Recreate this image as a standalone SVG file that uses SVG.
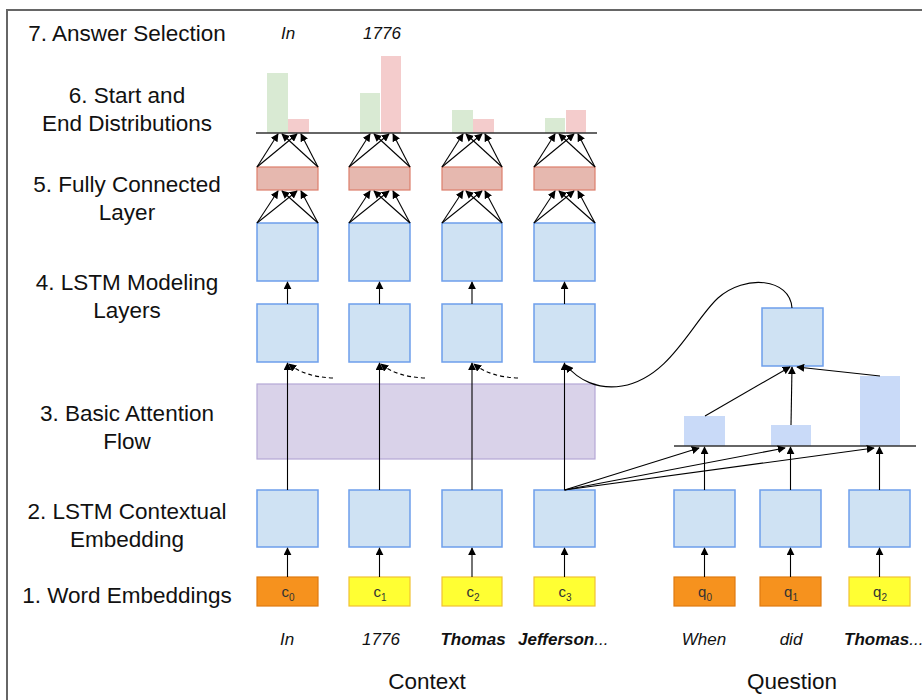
<svg xmlns="http://www.w3.org/2000/svg" width="922" height="700" viewBox="0 0 922 700">
  <defs>
    <marker id="ah" viewBox="0 0 10 10" refX="9" refY="5" markerWidth="8" markerHeight="8" markerUnits="userSpaceOnUse" orient="auto">
      <path d="M0,0 L10,5 L0,10 z" fill="#000"/>
    </marker>
    <style>
      .lbl { font-family: "Liberation Sans", Arial, sans-serif; font-size: 22.5px; fill: #111; text-anchor: middle; }
      .word { font-family: "Liberation Sans", Arial, sans-serif; font-size: 17px; font-style: italic; fill: #111; text-anchor: middle; }
      .bold { font-weight: bold; }
      .title { font-family: "Liberation Sans", Arial, sans-serif; font-size: 22.5px; fill: #111; text-anchor: middle; }
      .sub { font-family: "Liberation Sans", Arial, sans-serif; font-size: 15px; fill: #333; text-anchor: middle; }
      .lstm { fill: #cfe2f3; stroke: #6d9eeb; stroke-width: 1.5; }
      .fc { fill: #e6b8af; stroke: #dd7e6b; stroke-width: 1.2; }
      .att { fill: #d9d2e9; stroke: #b4a7d6; stroke-width: 1.2; }
      .orange { fill: #f6921e; stroke: #e07b10; stroke-width: 1.2; }
      .yellow { fill: #ffff33; stroke: #f1c232; stroke-width: 1.2; }
      .green { fill: #d9ead3; }
      .pink { fill: #f4cccc; }
      .qbar { fill: #c9daf8; }
      .base { stroke: #333; stroke-width: 1.5; }
      .arr { stroke: #000; stroke-width: 1.1; fill: none; marker-end: url(#ah); }
      .dash { stroke: #000; stroke-width: 1.1; fill: none; stroke-dasharray: 4 3; marker-end: url(#ah); }
    </style>
  </defs>

  <rect width="922" height="700" fill="#fff"/>
  <!-- frame -->
  <path d="M7,700 L7,10 L922,10" fill="none" stroke="#666" stroke-width="2"/>

  <!-- layer labels -->
  <g id="layer-labels">
    <text class="lbl" x="127" y="41">7. Answer Selection</text>
    <text class="lbl" x="127" y="103">6. Start and</text>
    <text class="lbl" x="127" y="131">End Distributions</text>
    <text class="lbl" x="127" y="192">5. Fully Connected</text>
    <text class="lbl" x="127" y="220">Layer</text>
    <text class="lbl" x="127" y="290">4. LSTM Modeling</text>
    <text class="lbl" x="127" y="318">Layers</text>
    <text class="lbl" x="127" y="421">3. Basic Attention</text>
    <text class="lbl" x="127" y="449">Flow</text>
    <text class="lbl" x="127" y="519">2. LSTM Contextual</text>
    <text class="lbl" x="127" y="547">Embedding</text>
    <text class="lbl" x="127" y="603">1. Word Embeddings</text>
  </g>

  <!-- answer words -->
  <g id="answer">
    <text class="word" x="288" y="39">In</text>
    <text class="word" x="382" y="39">1776</text>
  </g>

  <!-- start / end distributions -->
  <g id="distributions">
    <rect class="green" x="267" y="73" width="21" height="60"/>
    <rect class="pink" x="288" y="119" width="21" height="14"/>
    <rect class="green" x="360" y="93" width="20" height="40"/>
    <rect class="pink" x="381" y="56" width="20" height="77"/>
    <rect class="green" x="452" y="110" width="21" height="23"/>
    <rect class="pink" x="473" y="119" width="21" height="14"/>
    <rect class="green" x="545" y="118" width="20" height="15"/>
    <rect class="pink" x="566" y="110" width="20" height="23"/>
    <line class="base" x1="256" y1="133" x2="597" y2="133"/>
  </g>

  <!-- attention flow layer -->
  <g id="attention">
    <rect class="att" x="257" y="384" width="338" height="75"/>
  </g>

  <!-- context columns -->
  <g id="context-0">
    <rect class="fc" x="257" y="167" width="61" height="23"/>
    <rect class="lstm" x="257" y="223" width="61" height="58"/>
    <rect class="lstm" x="257" y="304" width="61" height="58"/>
    <rect class="lstm" x="257" y="490" width="61" height="57"/>
    <rect class="orange" x="257" y="577" width="61" height="29"/>
    <text class="sub" x="288" y="597">c<tspan font-size="10" dy="4">0</tspan></text>
    <text class="word" x="287" y="645">In</text>
  </g>
  <g id="context-1">
    <rect class="fc" x="349" y="167" width="61" height="23"/>
    <rect class="lstm" x="349" y="223" width="61" height="58"/>
    <rect class="lstm" x="349" y="304" width="61" height="58"/>
    <rect class="lstm" x="349" y="490" width="61" height="57"/>
    <rect class="yellow" x="349" y="577" width="61" height="29"/>
    <text class="sub" x="380" y="597">c<tspan font-size="10" dy="4">1</tspan></text>
    <text class="word" x="381" y="645">1776</text>
  </g>
  <g id="context-2">
    <rect class="fc" x="442" y="167" width="60" height="23"/>
    <rect class="lstm" x="442" y="223" width="60" height="58"/>
    <rect class="lstm" x="442" y="304" width="60" height="58"/>
    <rect class="lstm" x="442" y="490" width="60" height="57"/>
    <rect class="yellow" x="442" y="577" width="60" height="29"/>
    <text class="sub" x="473" y="597">c<tspan font-size="10" dy="4">2</tspan></text>
    <text class="word bold" x="473" y="645">Thomas</text>
  </g>
  <g id="context-3">
    <rect class="fc" x="534" y="167" width="61" height="23"/>
    <rect class="lstm" x="534" y="223" width="61" height="58"/>
    <rect class="lstm" x="534" y="304" width="61" height="58"/>
    <rect class="lstm" x="534" y="490" width="61" height="57"/>
    <rect class="yellow" x="534" y="577" width="61" height="29"/>
    <text class="sub" x="565" y="597">c<tspan font-size="10" dy="4">3</tspan></text>
    <text class="word" x="518" y="645" style="text-anchor:start"><tspan class="bold">Jefferson</tspan>...</text>
  </g>

  <!-- question side -->
  <g id="question-attention">
    <rect class="qbar" x="684" y="416" width="41" height="30"/>
    <rect class="qbar" x="771" y="425" width="40" height="21"/>
    <rect class="qbar" x="860" y="376" width="40" height="70"/>
    <line class="base" x1="674" y1="446" x2="916" y2="446"/>
  </g>
  <g id="question-summary">
    <rect class="lstm" x="762" y="308" width="61" height="58"/>
  </g>
  <g id="question-0">
    <rect class="lstm" x="674" y="490" width="61" height="57"/>
    <rect class="orange" x="674" y="577" width="61" height="29"/>
    <text class="sub" x="705" y="597">q<tspan font-size="10" dy="4">0</tspan></text>
    <text class="word" x="704" y="645">When</text>
  </g>
  <g id="question-1">
    <rect class="lstm" x="760" y="490" width="61" height="57"/>
    <rect class="orange" x="760" y="577" width="61" height="29"/>
    <text class="sub" x="791" y="597">q<tspan font-size="10" dy="4">1</tspan></text>
    <text class="word" x="791" y="645">did</text>
  </g>
  <g id="question-2">
    <rect class="lstm" x="849" y="490" width="61" height="57"/>
    <rect class="yellow" x="849" y="577" width="61" height="29"/>
    <text class="sub" x="880" y="597">q<tspan font-size="10" dy="4">2</tspan></text>
    <text class="word" x="844" y="645" style="text-anchor:start"><tspan class="bold">Thomas</tspan>...</text>
  </g>

  <g id="captions">
    <text class="title" x="427" y="689">Context</text>
    <text class="title" x="792" y="689">Question</text>
  </g>

  <!-- connectors -->
  <g id="connectors">
    <!-- FC layer to distributions -->
    <path class="arr" d="M257,167 L278,134"/><path class="arr" d="M257,167 L297,134"/>
    <path class="arr" d="M318,167 L282,134"/><path class="arr" d="M318,167 L301,134"/>
    <path class="arr" d="M349,167 L370,134"/><path class="arr" d="M349,167 L389,134"/>
    <path class="arr" d="M410,167 L374,134"/><path class="arr" d="M410,167 L393,134"/>
    <path class="arr" d="M442,167 L463,134"/><path class="arr" d="M442,167 L482,134"/>
    <path class="arr" d="M502,167 L466,134"/><path class="arr" d="M502,167 L485,134"/>
    <path class="arr" d="M534,167 L555,134"/><path class="arr" d="M534,167 L574,134"/>
    <path class="arr" d="M595,167 L559,134"/><path class="arr" d="M595,167 L578,134"/>

    <!-- modeling LSTM to FC layer -->
    <path class="arr" d="M257,223 L278,191"/><path class="arr" d="M257,223 L297,191"/>
    <path class="arr" d="M318,223 L282,191"/><path class="arr" d="M318,223 L301,191"/>
    <path class="arr" d="M349,223 L370,191"/><path class="arr" d="M349,223 L389,191"/>
    <path class="arr" d="M410,223 L374,191"/><path class="arr" d="M410,223 L393,191"/>
    <path class="arr" d="M442,223 L463,191"/><path class="arr" d="M442,223 L482,191"/>
    <path class="arr" d="M502,223 L466,191"/><path class="arr" d="M502,223 L485,191"/>
    <path class="arr" d="M534,223 L555,191"/><path class="arr" d="M534,223 L574,191"/>
    <path class="arr" d="M595,223 L559,191"/><path class="arr" d="M595,223 L578,191"/>

    <!-- between modeling layers -->
    <path class="arr" d="M287.5,304 L287.5,282"/>
    <path class="arr" d="M379.5,304 L379.5,282"/>
    <path class="arr" d="M472,304 L472,282"/>
    <path class="arr" d="M564.5,304 L564.5,282"/>

    <!-- contextual embedding through attention to modeling -->
    <path class="arr" d="M287.5,490 L287.5,363"/>
    <path class="arr" d="M379.5,490 L379.5,363"/>
    <path class="arr" d="M472,490 L472,363"/>
    <path class="arr" d="M564.5,490 L564.5,363"/>

    <!-- recurrent links -->
    <path class="dash" d="M333,378 Q305,377 289,364"/>
    <path class="dash" d="M425,378 Q397,377 381,364"/>
    <path class="dash" d="M518,378 Q490,377 474,364"/>

    <!-- question summary back to context modeling -->
    <path class="arr" d="M792,308 C790,278 745,274 718,298 C692,322 670,378 622,386 C598,390 578,380 566,365"/>

    <!-- word embeddings to contextual embedding -->
    <path class="arr" d="M287.5,577 L287.5,548"/>
    <path class="arr" d="M379.5,577 L379.5,548"/>
    <path class="arr" d="M472,577 L472,548"/>
    <path class="arr" d="M564.5,577 L564.5,548"/>
    <path class="arr" d="M704.5,577 L704.5,548"/>
    <path class="arr" d="M790.5,577 L790.5,548"/>
    <path class="arr" d="M879.5,577 L879.5,548"/>

    <!-- question contextual embedding to attention baseline -->
    <path class="arr" d="M704.5,490 L704.5,447"/>
    <path class="arr" d="M790.5,490 L790.5,447"/>
    <path class="arr" d="M879.5,490 L879.5,447"/>

    <!-- context word attending over question -->
    <path class="arr" d="M564.5,490 L699,448"/>
    <path class="arr" d="M564.5,490 L785,448"/>
    <path class="arr" d="M564.5,490 L874,448"/>

    <!-- question attention to summary -->
    <path class="arr" d="M705,416 L790,367"/>
    <path class="arr" d="M791,425 L792,367"/>
    <path class="arr" d="M880,376 L797,367"/>
  </g>
</svg>
